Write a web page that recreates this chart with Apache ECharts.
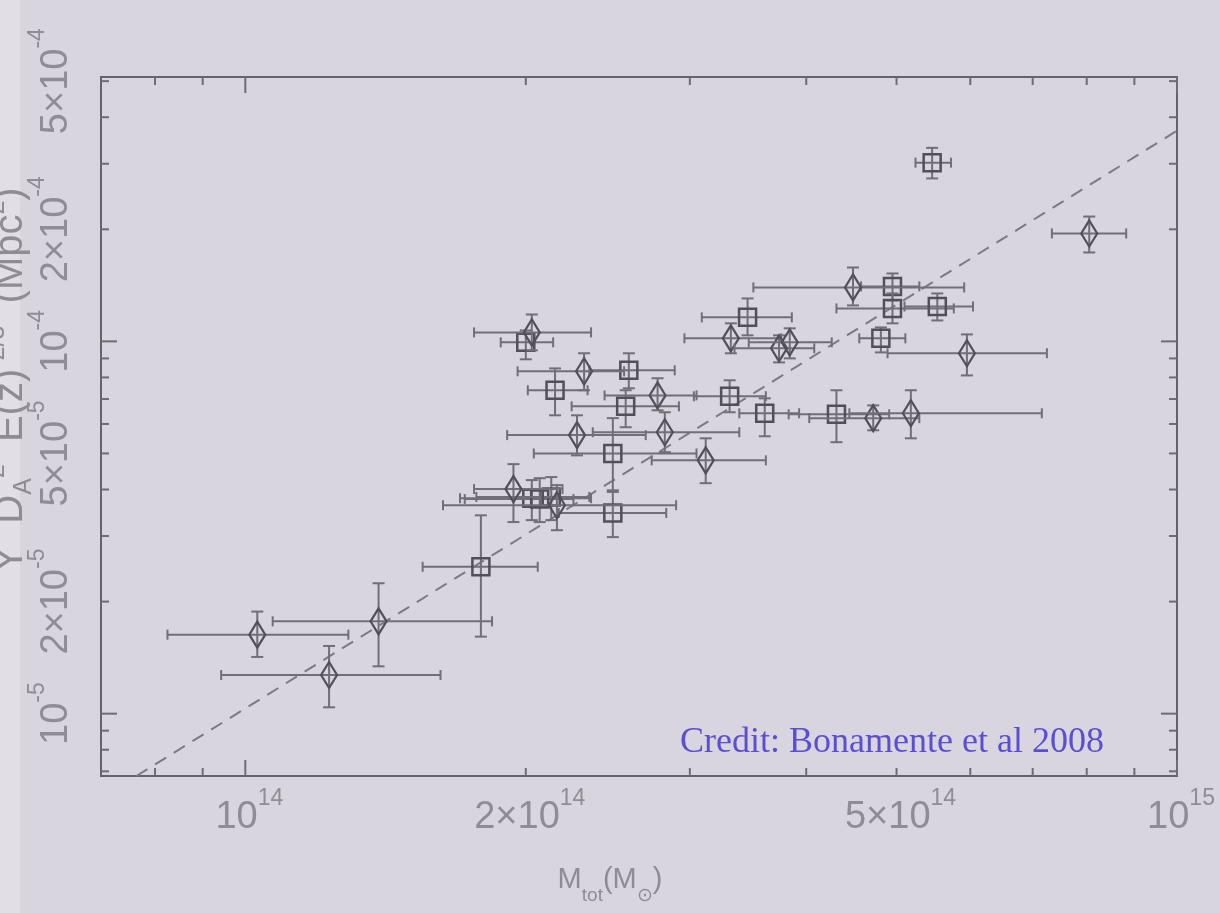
<!DOCTYPE html>
<html lang="en">
<head>
<meta charset="UTF-8">
<title>Y - M_tot scaling</title>
<script src="https://cdn.jsdelivr.net/npm/echarts@6/dist/echarts.min.js"></script>
<style>
  html, body { margin: 0; padding: 0; background: #d9d5df; }
  #chart { width: 1220px; height: 913px; }
</style>
</head>
<body>
<div id="chart"></div>
<script>
// units: mass in 1e14 Msun, Y in 1e-4 Mpc^2
var M_UNIT = 1e14, Y_UNIT = 1e-4;

// squares
var sqX   = [5.46, 4.95, 4.95, 5.53, 4.81, 3.46, 2.00, 2.58, 2.15, 2.56, 3.31, 3.61, 4.31, 2.48, 2.03, 2.07, 2.13, 2.48, 1.79];
var sqXlo = [5.24, 4.58, 4.31, 5.10, 4.56, 3.09, 1.88, 2.34, 2.01, 2.24, 3.03, 3.39, 3.83, 2.04, 1.70, 1.72, 1.77, 2.17, 1.55];
var sqXhi = [5.72, 5.29, 5.76, 6.04, 5.11, 3.86, 2.14, 2.89, 2.33, 2.92, 3.62, 3.93, 4.91, 3.05, 2.35, 2.25, 2.34, 2.83, 2.06];
var sqY   = [3.02, 1.405, 1.226, 1.241, 1.019, 1.160, 0.994, 0.836, 0.739, 0.669, 0.712, 0.641, 0.637, 0.500, 0.379, 0.377, 0.382, 0.346, 0.248];
var sqYlo = [2.74, 1.288, 1.118, 1.138, 0.934, 1.038, 0.895, 0.748, 0.633, 0.588, 0.645, 0.556, 0.536, 0.394, 0.331, 0.327, 0.331, 0.298, 0.161];
var sqYhi = [3.31, 1.522, 1.345, 1.345, 1.090, 1.304, 1.070, 0.929, 0.846, 0.739, 0.786, 0.703, 0.739, 0.622, 0.424, 0.429, 0.432, 0.398, 0.341];

// diamonds
var dmX   = [8.05, 4.49, 3.32, 3.74, 3.84, 5.95, 2.03, 2.31, 2.77, 2.27, 2.82, 3.12, 1.94, 4.72, 5.18, 2.16, 1.03, 1.39, 1.23];
var dmXlo = [7.34, 3.51, 2.96, 3.35, 3.47, 4.89, 1.76, 1.96, 2.43, 1.91, 2.36, 2.73, 1.76, 4.03, 4.45, 1.63, 0.825, 1.07, 0.942];
var dmXhi = [8.82, 5.91, 3.76, 4.08, 4.26, 7.25, 2.35, 2.55, 3.05, 2.69, 3.39, 3.62, 2.19, 5.29, 7.16, 2.90, 1.29, 1.84, 1.62];
var dmY   = [1.949, 1.396, 1.019, 0.958, 0.994, 0.929, 1.057, 0.831, 0.716, 0.560, 0.570, 0.479, 0.401, 0.622, 0.641, 0.363, 0.163, 0.177, 0.127];
var dmYlo = [1.733, 1.249, 0.929, 0.878, 0.900, 0.810, 0.946, 0.739, 0.653, 0.494, 0.504, 0.416, 0.327, 0.577, 0.549, 0.311, 0.142, 0.134, 0.104];
var dmYhi = [2.164, 1.579, 1.118, 1.038, 1.084, 1.044, 1.181, 0.929, 0.796, 0.633, 0.645, 0.549, 0.468, 0.673, 0.739, 0.411, 0.188, 0.224, 0.152];

// dashed fit line end points
var fitX = [7.64e13, 1e15];
var fitY = [6.8e-6, 3.68e-4];

// axis ranges and ticks
var X_MIN = 7e13, X_MAX = 1e15;
var Y_MIN = 6.8e-6, Y_MAX = 5.13e-4;
var xMajor = [1e14, 1e15];
var xMinor = [8e13, 9e13, 2e14, 3e14, 4e14, 5e14, 6e14, 7e14, 8e14, 9e14];
var yMajor = [1e-5, 1e-4];
var yMinor = [7e-6, 8e-6, 9e-6, 2e-5, 3e-5, 4e-5, 5e-5, 6e-5, 7e-5, 8e-5, 9e-5, 2e-4, 3e-4, 4e-4, 5e-4];

var xLabVal  = [1e14, 2e14, 5e14, 1e15];
var xLabMant = ['', '2×', '5×', ''];
var xLabExp  = ['14', '14', '14', '15'];
var yLabVal  = [1e-5, 2e-5, 5e-5, 1e-4, 2e-4, 5e-4];
var yLabMant = ['', '2×', '5×', '', '2×', '5×'];
var yLabExp  = ['-5', '-5', '-5', '-4', '-4', '-4'];

var LAB_COLOR = '#8f8c95';
var FONT = 'Liberation Sans';
var BAR_COLOR = '#716e77';
var MARK_COLOR = '#524f58';

function rows(x, xlo, xhi, y, ylo, yhi) {
  return x.map(function (v, i) {
    return [v * M_UNIT, y[i] * Y_UNIT, xlo[i] * M_UNIT, xhi[i] * M_UNIT, ylo[i] * Y_UNIT, yhi[i] * Y_UNIT];
  });
}

function errItem(shape) {
  return function (params, api) {
    var x = api.value(0), y = api.value(1);
    var c = api.coord([x, y]);
    var xl = api.coord([api.value(2), y])[0];
    var xh = api.coord([api.value(3), y])[0];
    var yb = api.coord([x, api.value(4)])[1];
    var yt = api.coord([x, api.value(5)])[1];
    var bs = { stroke: BAR_COLOR, lineWidth: 2 };
    var kids = [
      { type: 'line', shape: { x1: xl, y1: c[1], x2: xh, y2: c[1] }, style: bs },
      { type: 'line', shape: { x1: xl, y1: c[1] - 5, x2: xl, y2: c[1] + 5 }, style: bs },
      { type: 'line', shape: { x1: xh, y1: c[1] - 5, x2: xh, y2: c[1] + 5 }, style: bs },
      { type: 'line', shape: { x1: c[0], y1: yt, x2: c[0], y2: yb }, style: bs },
      { type: 'line', shape: { x1: c[0] - 6, y1: yt, x2: c[0] + 6, y2: yt }, style: bs },
      { type: 'line', shape: { x1: c[0] - 6, y1: yb, x2: c[0] + 6, y2: yb }, style: bs }
    ];
    if (shape === 'square') {
      kids.push({ type: 'rect', shape: { x: c[0] - 8.5, y: c[1] - 8.5, width: 17, height: 17 },
        style: { fill: 'none', stroke: MARK_COLOR, lineWidth: 2.5 } });
    } else {
      kids.push({ type: 'polygon', shape: { points: [[c[0], c[1] - 13], [c[0] + 8, c[1]], [c[0], c[1] + 13], [c[0] - 8, c[1]]] },
        style: { fill: 'none', stroke: MARK_COLOR, lineWidth: 2.2 } });
    }
    return { type: 'group', children: kids };
  };
}

var tickStyle = { stroke: '#6e6b74', lineWidth: 2 };

function xTickItem(params, api) {
  var v = api.value(0), len = api.value(2) ? 16 : 8;
  var b = api.coord([v, Y_MIN]), t = api.coord([v, Y_MAX]);
  return { type: 'group', children: [
    { type: 'line', shape: { x1: b[0], y1: b[1], x2: b[0], y2: b[1] - len }, style: tickStyle },
    { type: 'line', shape: { x1: t[0], y1: t[1], x2: t[0], y2: t[1] + len }, style: tickStyle }
  ] };
}

function yTickItem(params, api) {
  var v = api.value(1), len = api.value(2) ? 16 : 8;
  var l = api.coord([X_MIN, v]), r = api.coord([X_MAX, v]);
  return { type: 'group', children: [
    { type: 'line', shape: { x1: l[0], y1: l[1], x2: l[0] + len, y2: l[1] }, style: tickStyle },
    { type: 'line', shape: { x1: r[0], y1: r[1], x2: r[0] - len, y2: r[1] }, style: tickStyle }
  ] };
}

var labRich = {
  b: { fontSize: 38, fontFamily: FONT, fill: LAB_COLOR, lineHeight: 50, verticalAlign: 'bottom' },
  s: { fontSize: 23, fontFamily: FONT, fill: LAB_COLOR, lineHeight: 23, verticalAlign: 'top' }
};

function xLabItem(params, api) {
  var i = params.dataIndex;
  var p = api.coord([api.value(0), Y_MIN]);
  return { type: 'text', x: p[0] + 4, y: p[1] + 36, style: {
    text: '{b|' + xLabMant[i] + '10}{s|' + xLabExp[i] + '}', rich: labRich,
    align: 'center', verticalAlign: 'middle' } };
}

function yLabItem(params, api) {
  var i = params.dataIndex;
  var p = api.coord([X_MIN, api.value(1)]);
  return { type: 'text', x: p[0] - 50, y: p[1], rotation: Math.PI / 2, style: {
    text: '{b|' + yLabMant[i] + '10}{s|' + yLabExp[i] + '}', rich: labRich,
    align: 'center', verticalAlign: 'middle' } };
}

var chart = echarts.init(document.getElementById('chart'));
chart.setOption({
  animation: false,
  backgroundColor: '#d9d5df',
  grid: { left: 101, right: 43, top: 77, bottom: 137, show: true,
    borderColor: '#65626c', borderWidth: 2, backgroundColor: 'transparent' },
  xAxis: { type: 'log', min: X_MIN, max: X_MAX,
    axisLine: { show: false }, axisTick: { show: false }, axisLabel: { show: false }, splitLine: { show: false } },
  yAxis: { type: 'log', min: Y_MIN, max: Y_MAX,
    axisLine: { show: false }, axisTick: { show: false }, axisLabel: { show: false }, splitLine: { show: false } },
  graphic: [
    { type: 'rect', left: 0, top: 0, z: -1, shape: { width: 20, height: 913 }, style: { fill: '#e1dee6' } },
    { type: 'text', x: 11, y: 380, rotation: Math.PI / 2, style: {
        text: '{b|Y  D}{sb|A}{sp|2}{b|  E(z)}{sp|-2/3}{b|  (Mpc}{sp|2}{b|)}',
        align: 'center', verticalAlign: 'middle',
        rich: {
          b: { fontSize: 40, fontFamily: FONT, fill: LAB_COLOR, lineHeight: 52, verticalAlign: 'middle' },
          sb: { fontSize: 25, fontFamily: FONT, fill: LAB_COLOR, lineHeight: 25, verticalAlign: 'bottom' },
          sp: { fontSize: 25, fontFamily: FONT, fill: LAB_COLOR, lineHeight: 25, verticalAlign: 'top' }
        } } },
    { type: 'text', x: 610, y: 885, style: {
        text: '{b|M}{sb|tot}{b|(M}{sb|⊙}{b|)}',
        align: 'center', verticalAlign: 'middle',
        rich: {
          b: { fontSize: 29, fontFamily: FONT, fill: LAB_COLOR, lineHeight: 40, verticalAlign: 'top' },
          sb: { fontSize: 19, fontFamily: FONT, fill: LAB_COLOR, lineHeight: 19, verticalAlign: 'bottom' }
        } } },
    { type: 'text', x: 680, y: 743, style: {
        text: 'Credit: Bonamente et al 2008', fontFamily: 'Liberation Serif', fontSize: 36,
        fill: '#5a4fd4', verticalAlign: 'middle' } }
  ],
  series: [
    { type: 'line', data: fitX.map(function (v, i) { return [v, fitY[i]]; }),
      symbol: 'none', silent: true, z: 3,
      lineStyle: { color: '#7d7983', width: 2, type: [13, 9] } },
    { type: 'custom', name: 'squares', renderItem: errItem('square'), z: 4,
      encode: { x: [0, 2, 3], y: [1, 4, 5] },
      data: rows(sqX, sqXlo, sqXhi, sqY, sqYlo, sqYhi) },
    { type: 'custom', name: 'diamonds', renderItem: errItem('diamond'), z: 4,
      encode: { x: [0, 2, 3], y: [1, 4, 5] },
      data: rows(dmX, dmXlo, dmXhi, dmY, dmYlo, dmYhi) },
    { type: 'custom', renderItem: xTickItem, silent: true, z: 5, encode: { x: 0, y: 1 },
      data: xMajor.map(function (v) { return [v, Y_MIN, 1]; }).concat(xMinor.map(function (v) { return [v, Y_MIN, 0]; })) },
    { type: 'custom', renderItem: yTickItem, silent: true, z: 5, encode: { x: 0, y: 1 },
      data: yMajor.map(function (v) { return [X_MIN, v, 1]; }).concat(yMinor.map(function (v) { return [X_MIN, v, 0]; })) },
    { type: 'custom', renderItem: xLabItem, silent: true, z: 5, encode: { x: 0, y: 1 },
      data: xLabVal.map(function (v) { return [v, Y_MIN]; }) },
    { type: 'custom', renderItem: yLabItem, silent: true, z: 5, encode: { x: 0, y: 1 },
      data: yLabVal.map(function (v) { return [X_MIN, v]; }) }
  ]
});
</script>
</body>
</html>
